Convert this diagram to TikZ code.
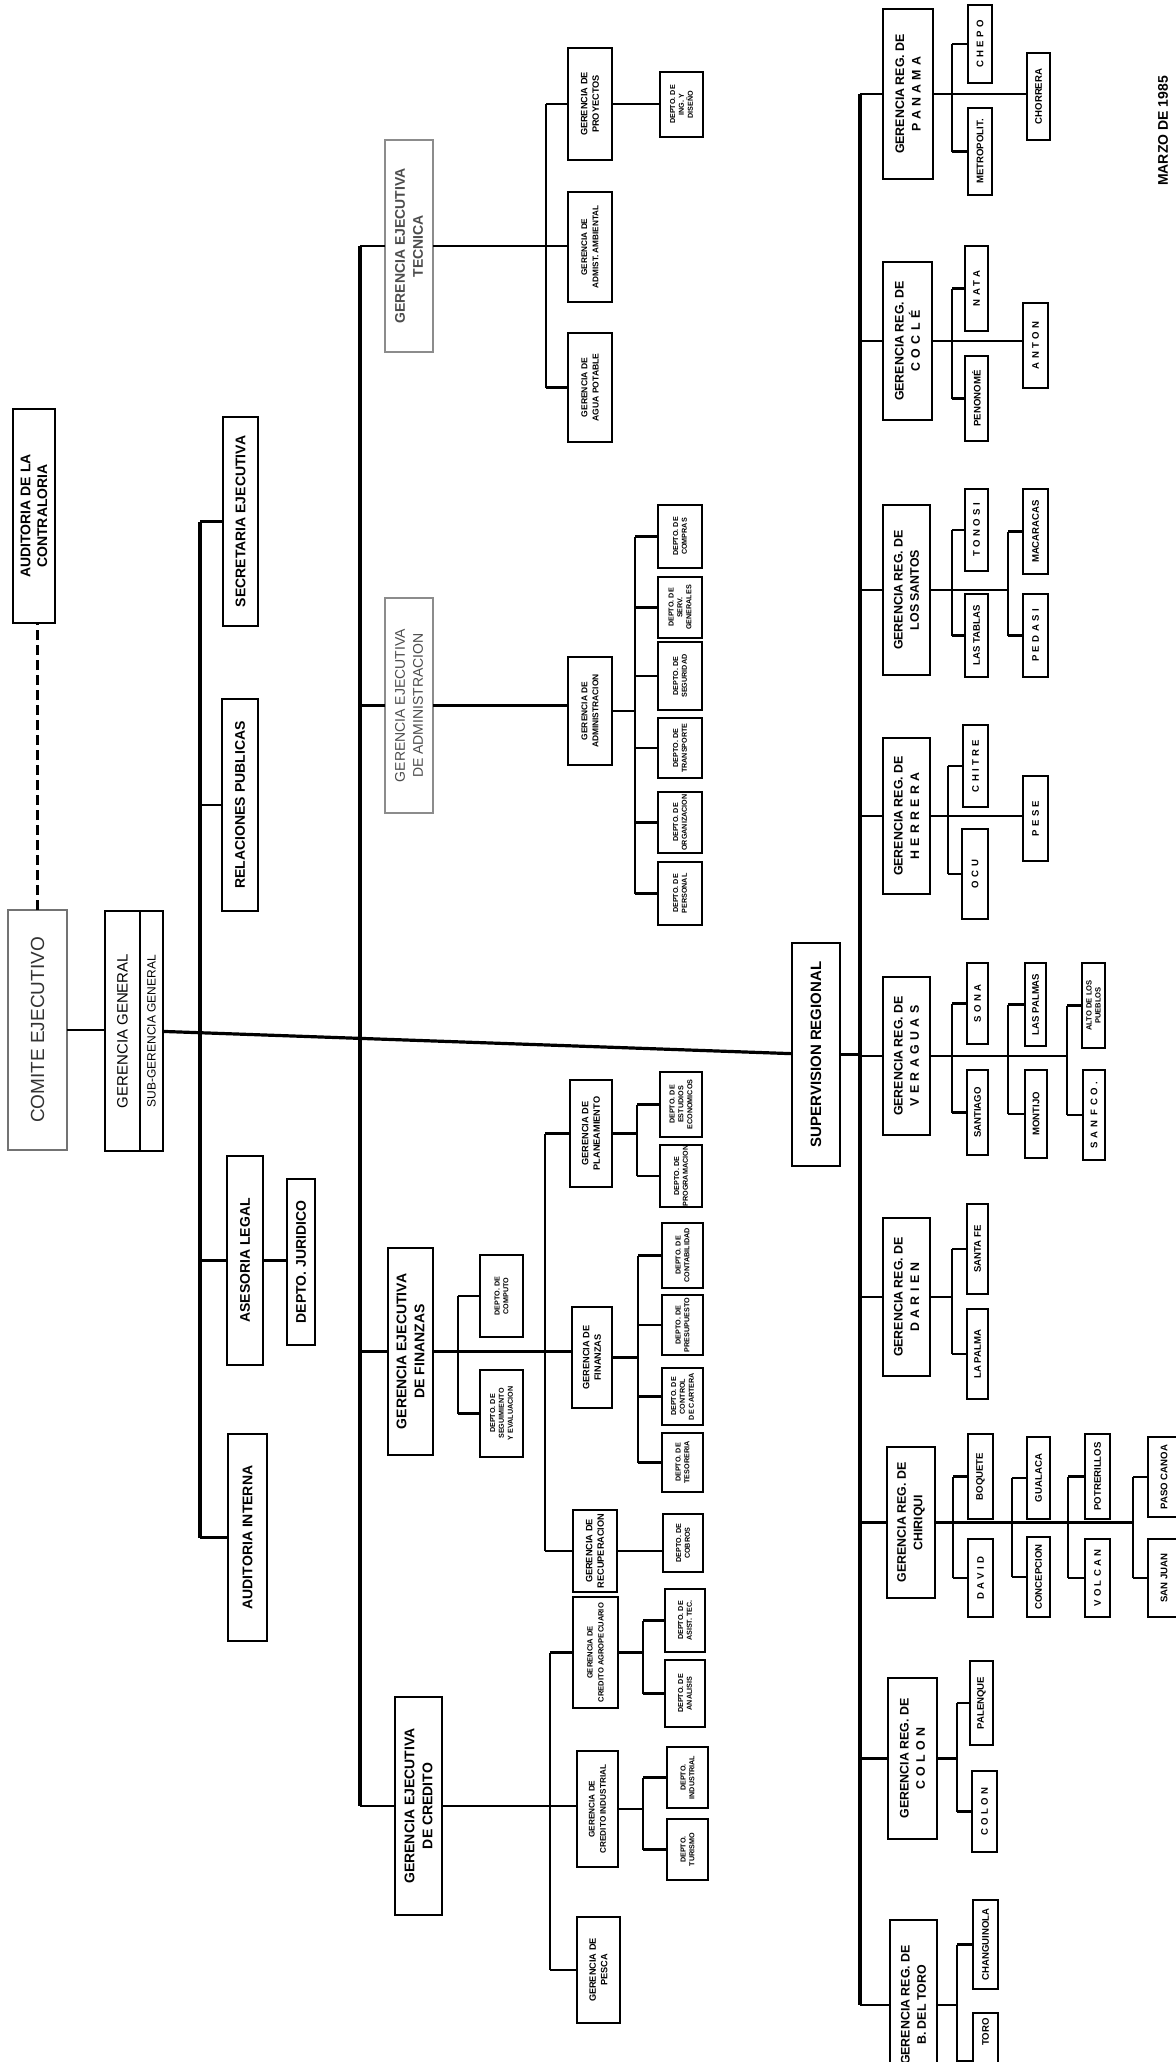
\documentclass[tikz,border=0pt]{standalone}
\usepackage{fontspec}
\setmainfont{Liberation Sans}
\newcommand\obox[7]{\node[#1,minimum width={(#6-#4)*0.5pt},minimum height={(#5-#3)*0.5pt}] (#2) at ({(#3+#5)/2},{(#4+#6)/2}) {#7};}
\newcommand\hconn[2]{\draw[conn] (#1.north) -- (#1.north -| #2);}
\newcommand\lsp[1]{{\addfontfeature{LetterSpace=35}#1}}
\tikzset{
  every node/.style={inner sep=0pt, outer sep=0pt},
  bxs/.style={draw, rotate=90, align=center, line width=1.4pt, font=\bfseries\fontsize{7}{8.4}\selectfont},
  geje/.style={bxs, font=\bfseries\fontsize{7}{9}\selectfont},
  greg/.style={bxs, font=\bfseries\fontsize{6.2}{8.2}\selectfont},
  gsub/.style={bxs, line width=1.3pt, font=\bfseries\fontsize{4.6}{5.8}\selectfont},
  dep/.style={bxs, line width=1.2pt, font=\bfseries\fontsize{3.6}{4.4}\selectfont},
  loc/.style={bxs, line width=1.3pt, font=\bfseries\fontsize{4.8}{5.6}\selectfont},
  faded/.style={draw=black!45, text=black!70, line width=1pt},
  comite/.style={draw=black!55, line width=0.9pt, rotate=90, text=black!80, font=\fontsize{9.5}{11}\selectfont},
  ggs/.style={draw, line width=1.2pt, rotate=90, font=\fontsize{7.5}{9}\selectfont},
  conn/.style={line width=1.1pt},
  bus/.style={line width=1.6pt},
}
\begin{document}
\begin{tikzpicture}[x=0.5pt,y=-0.5pt]
\useasboundingbox[fill=white] (0,0) rectangle (1175,2062);
% bus coordinates (only x used)
\coordinate (sbus) at (200,0);
\coordinate (gbus) at (360,0);
\coordinate (tbus) at (546,0);
\coordinate (abus) at (635,0);
\coordinate (fbusA) at (458,0);
\coordinate (fbusB) at (545,0);
\coordinate (pbus) at (637,0);
\coordinate (fbusC) at (638,0);
\coordinate (cbus) at (550,0);
\coordinate (crbus) at (643,0);
\coordinate (rbus) at (860,0);
\coordinate (vA) at (952,0);
\coordinate (vB) at (1008,0);
\coordinate (vC) at (1067,0);
\coordinate (hA) at (948,0);
\coordinate (cA) at (953,0);
\coordinate (cB) at (1012,0);
\coordinate (cC) at (1068,0);
\coordinate (cD) at (1133,0);
\coordinate (oA) at (957,0);

% ---------- top level ----------
\obox{bxs}{aud}{13}{409}{55}{623}{AUDITORIA DE LA\\CONTRALORIA}
\obox{comite}{com}{8}{910}{67}{1150}{COMITE EJECUTIVO}
\obox{ggs}{gg}{105}{911}{140}{1151}{GERENCIA GENERAL}
\obox{ggs,font=\fontsize{6}{7}\selectfont}{sgg}{140}{911}{163}{1151}{SUB-GERENCIA GENERAL}
\draw[line width=1.8pt, dash pattern=on 5pt off 2.5pt] (com.east) -- (com.east |- aud.west);
\draw[conn] (com.south) -- (com.south -| gg.north);

% staff
\obox{bxs}{sec}{223}{417}{258}{626}{SECRETARIA EJECUTIVA}
\obox{bxs}{rel}{222}{699}{258}{911}{RELACIONES PUBLICAS}
\obox{bxs}{ase}{227}{1156}{263}{1365}{ASESORIA LEGAL}
\obox{bxs}{jur}{287}{1179}{315}{1345}{DEPTO. JURIDICO}
\obox{bxs}{audi}{228}{1434}{267}{1641}{AUDITORIA INTERNA}
\draw[bus] (sec.north -| sbus) -- (audi.north -| sbus);
\hconn{sec}{sbus}
\hconn{rel}{sbus}
\hconn{ase}{sbus}
\hconn{audi}{sbus}
\draw[conn] (ase.south) -- (ase.south -| jur.north);

% ---------- gerencias ejecutivas ----------
\obox{geje,faded}{tec}{385}{140}{433}{352}{GERENCIA EJECUTIVA\\TECNICA}
\obox{geje,faded,font=\fontsize{7}{9}\selectfont}{adm}{385}{598}{433}{813}{GERENCIA EJECUTIVA\\DE ADMINISTRACION}
\obox{geje}{fin}{388}{1248}{433}{1455}{GERENCIA EJECUTIVA\\DE FINANZAS}
\obox{geje}{cred}{395}{1697}{442}{1915}{GERENCIA EJECUTIVA\\DE CREDITO}
\draw[bus] (tec.north -| gbus) -- (cred.north -| gbus);
\hconn{tec}{gbus}
\hconn{adm}{gbus}
\hconn{fin}{gbus}
\hconn{cred}{gbus}

% Tecnica
\obox{gsub}{proy}{568}{48}{612}{160}{GERENCIA DE\\PROYECTOS}
\obox{gsub,font=\bfseries\fontsize{4.1}{5.6}\selectfont}{gamb}{568}{192}{612}{302}{GERENCIA DE\\ADMIST. AMBIENTAL}
\obox{gsub,font=\bfseries\fontsize{4.3}{5.6}\selectfont}{gagua}{568}{333}{612}{442}{GERENCIA DE\\AGUA POTABLE}
\obox{dep}{dproy}{660}{72}{703}{137}{DEPTO. DE\\ING. Y\\DISEÑO}
\draw[conn] (tec.south) -- (tec.south -| gamb.north);
\draw[conn] (proy.north -| tbus) -- (gagua.north -| tbus);
\hconn{proy}{tbus}
\hconn{gagua}{tbus}
\draw[conn] (proy.south) -- (proy.south -| dproy.north);

% Administracion
\obox{gsub,font=\bfseries\fontsize{4.2}{5.6}\selectfont}{gadmn}{568}{657}{612}{765}{GERENCIA DE\\ADMINISTRACION}
\obox{dep}{ad1}{658}{505}{702}{568}{DEPTO. DE\\COMPRAS}
\obox{dep}{ad2}{658}{577}{702}{638}{DEPTO. DE\\SERV.\\GENERALES}
\obox{dep}{ad3}{658}{642}{702}{710}{DEPTO. DE\\SEGURIDAD}
\obox{dep}{ad4}{658}{718}{702}{778}{DEPTO. DE\\TRANSPORTE}
\obox{dep}{ad5}{658}{792}{702}{853}{DEPTO. DE\\ORGANIZACION}
\obox{dep}{ad6}{658}{862}{702}{925}{DEPTO. DE\\PERSONAL}
\draw[conn] (adm.south) -- (adm.south -| gadmn.north);
\draw[conn] (gadmn.south) -- (gadmn.south -| abus);
\draw[conn] (ad1.north -| abus) -- (ad6.north -| abus);
\foreach \n in {ad1,ad2,ad3,ad4,ad5,ad6}{\hconn{\n}{abus}}

% Finanzas
\obox{dep}{dcomp}{480}{1255}{523}{1337}{DEPTO. DE\\COMPUTO}
\obox{dep}{dseg}{480}{1370}{523}{1457}{DEPTO. DE\\SEGUIMIENTO\\Y EVALUACION}
\obox{gsub}{gplan}{570}{1080}{612}{1187}{GERENCIA DE\\PLANEAMIENTO}
\obox{gsub}{gfin}{572}{1307}{612}{1408}{GERENCIA DE\\FINANZAS}
\obox{gsub}{grec}{573}{1510}{617}{1592}{GERENCIA DE\\RECUPERACION}
\obox{dep}{pA}{660}{1072}{702}{1137}{DEPTO. DE\\ESTUDIOS\\ECONOMICOS}
\obox{dep}{pB}{660}{1145}{702}{1207}{DEPTO. DE\\PROGRAMACION}
\obox{dep}{f1}{662}{1223}{703}{1288}{DEPTO. DE\\CONTABILIDAD}
\obox{dep}{f2}{662}{1295}{703}{1355}{DEPTO. DE\\PRESUPUESTO}
\obox{dep}{f3}{662}{1368}{703}{1425}{DEPTO. DE\\CONTROL\\DE CARTERA}
\obox{dep}{f4}{662}{1433}{703}{1492}{DEPTO. DE\\TESORERIA}
\obox{dep}{dcob}{663}{1514}{703}{1572}{DEPTO. DE\\COBROS}
\draw[conn] (fin.south) -- (fin.south -| gfin.north);
\draw[conn] (dcomp.north -| fbusA) -- (dseg.north -| fbusA);
\hconn{dcomp}{fbusA}
\hconn{dseg}{fbusA}
\draw[conn] (gplan.north -| fbusB) -- (grec.north -| fbusB);
\hconn{gplan}{fbusB}
\hconn{grec}{fbusB}
\draw[conn] (gplan.south) -- (gplan.south -| pbus);
\draw[conn] (pA.north -| pbus) -- (pB.north -| pbus);
\hconn{pA}{pbus}
\hconn{pB}{pbus}
\draw[conn] (gfin.south) -- (gfin.south -| fbusC);
\draw[conn] (f1.north -| fbusC) -- (f4.north -| fbusC);
\foreach \n in {f1,f2,f3,f4}{\hconn{\n}{fbusC}}
\draw[conn] (grec.south) -- (grec.south -| dcob.north);

% Credito
\obox{gsub,font=\bfseries\fontsize{3.8}{5.6}\selectfont}{gagro}{573}{1597}{618}{1708}{GERENCIA DE\\CREDITO AGROPECUARIO}
\obox{gsub,font=\bfseries\fontsize{4.1}{5.6}\selectfont}{gind}{577}{1751}{618}{1867}{GERENCIA DE\\CREDITO INDUSTRIAL}
\obox{gsub}{gpes}{577}{1917}{620}{2023}{GERENCIA DE\\PESCA}
\obox{dep}{agA}{665}{1589}{705}{1652}{DEPTO. DE\\ASIST. TEC.}
\obox{dep}{agB}{665}{1660}{705}{1727}{DEPTO. DE\\ANALISIS}
\obox{dep}{inA}{667}{1747}{708}{1808}{DEPTO.\\INDUSTRIAL}
\obox{dep}{inB}{667}{1819}{708}{1880}{DEPTO.\\TURISMO}
\draw[conn] (cred.south) -- (cred.south -| gind.north);
\draw[conn] (gagro.north -| cbus) -- (gpes.north -| cbus);
\hconn{gagro}{cbus}
\hconn{gpes}{cbus}
\draw[conn] (gagro.south) -- (gagro.south -| crbus);
\draw[conn] (agA.north -| crbus) -- (agB.north -| crbus);
\hconn{agA}{crbus}
\hconn{agB}{crbus}
\draw[conn] (gind.south) -- (gind.south -| crbus);
\draw[conn] (inA.north -| crbus) -- (inB.north -| crbus);
\hconn{inA}{crbus}
\hconn{inB}{crbus}

% ---------- regional ----------
\obox{bxs,font=\bfseries\fontsize{7.5}{9}\selectfont}{sup}{792}{943}{840}{1166}{SUPERVISION REGIONAL}
\draw[bus] (sgg) -- (sup);
\draw[bus] (sup.south) -- (sup.south -| rbus);

\obox{greg}{pan}{883}{9}{933}{179}{GERENCIA REG. DE\\\lsp{PANAMA}}
\obox{greg}{coc}{883}{262}{932}{420}{GERENCIA REG. DE\\\lsp{COCLÉ}}
\obox{greg}{sant}{883}{505}{930}{675}{GERENCIA REG. DE\\LOS SANTOS}
\obox{greg}{her}{883}{738}{930}{894}{GERENCIA REG. DE\\\lsp{HERRERA}}
\obox{greg}{ver}{883}{977}{930}{1135}{GERENCIA REG. DE\\\lsp{VERAGUAS}}
\obox{greg}{dar}{883}{1218}{930}{1376}{GERENCIA REG. DE\\\lsp{DARIEN}}
\obox{greg}{chi}{887}{1447}{935}{1598}{GERENCIA REG. DE\\CHIRIQUI}
\obox{greg}{col}{888}{1678}{937}{1839}{GERENCIA REG. DE\\\lsp{COLON}}
\obox{greg}{boc}{890}{1920}{937}{2090}{GERENCIA REG. DE\\B. DEL TORO}
\draw[bus] (pan.north -| rbus) -- (boc.north -| rbus);
\foreach \n in {pan,coc,sant,her,ver,dar,chi,col,boc}{\hconn{\n}{rbus}}

% Panama
\obox{loc}{chep}{968}{5}{992}{83}{\lsp{CHEPO}}
\obox{loc}{metro}{968}{108}{992}{195}{METROPOLIT.}
\obox{loc}{chor}{1027}{53}{1050}{140}{CHORRERA}
\draw[conn] (pan.south) -- (pan.south -| chor.north);
\draw[conn] (chep.north -| vA) -- (metro.north -| vA);
\hconn{chep}{vA}
\hconn{metro}{vA}

% Cocle
\obox{loc}{nata}{965}{246}{988}{331}{\lsp{NATA}}
\obox{loc}{peno}{965}{356}{988}{441}{PENONOMÉ}
\obox{loc}{anton}{1023}{303}{1048}{388}{\lsp{ANTON}}
\draw[conn] (coc.south) -- (coc.south -| anton.north);
\draw[conn] (nata.north -| vA) -- (peno.north -| vA);
\hconn{nata}{vA}
\hconn{peno}{vA}

% Los Santos
\obox{loc}{ton}{965}{489}{988}{571}{\lsp{TONOSI}}
\obox{loc}{ltab}{965}{594}{988}{677}{LAS TABLAS}
\obox{loc}{mac}{1023}{489}{1048}{574}{MACARACAS}
\obox{loc}{ped}{1023}{594}{1048}{677}{\lsp{PEDASI}}
\draw[conn] (sant.south) -- (sant.south -| vB);
\draw[conn] (ton.north -| vA) -- (ltab.north -| vA);
\hconn{ton}{vA}
\hconn{ltab}{vA}
\draw[conn] (mac.north -| vB) -- (ped.north -| vB);
\hconn{mac}{vB}
\hconn{ped}{vB}

% Herrera
\obox{loc}{chit}{963}{725}{988}{807}{\lsp{CHITRE}}
\obox{loc}{ocu}{962}{829}{988}{919}{\lsp{OCU}}
\obox{loc}{pese}{1023}{776}{1048}{861}{\lsp{PESE}}
\draw[conn] (her.south) -- (her.south -| pese.north);
\draw[conn] (chit.north -| hA) -- (ocu.north -| hA);
\hconn{chit}{hA}
\hconn{ocu}{hA}

% Veraguas
\obox{loc}{sona}{967}{963}{988}{1044}{\lsp{SONA}}
\obox{loc}{stgo}{967}{1070}{988}{1155}{SANTIAGO}
\obox{loc}{lpl}{1025}{963}{1046}{1046}{LAS PALMAS}
\obox{loc}{mont}{1025}{1070}{1047}{1158}{MONTIJO}
\obox{loc,font=\bfseries\fontsize{3.8}{4.6}\selectfont}{alto}{1082}{963}{1105}{1048}{ALTO DE LOS\\PUEBLOS}
\obox{loc}{sfco}{1083}{1070}{1105}{1160}{\lsp{SAN FCO.}}
\draw[conn] (ver.south) -- (ver.south -| vC);
\draw[conn] (sona.north -| vA) -- (stgo.north -| vA);
\hconn{sona}{vA}
\hconn{stgo}{vA}
\draw[conn] (lpl.north -| vB) -- (mont.north -| vB);
\hconn{lpl}{vB}
\hconn{mont}{vB}
\draw[conn] (alto.north -| vC) -- (sfco.north -| vC);
\hconn{alto}{vC}
\hconn{sfco}{vC}

% Darien
\obox{loc}{sfe}{967}{1204}{988}{1294}{SANTA FE}
\obox{loc}{lpa}{967}{1309}{988}{1399}{LA PALMA}
\draw[conn] (dar.south) -- (dar.south -| vA);
\draw[conn] (sfe.north -| vA) -- (lpa.north -| vA);
\hconn{sfe}{vA}
\hconn{lpa}{vA}

% Chiriqui
\obox{loc}{boq}{968}{1434}{993}{1519}{BOQUETE}
\obox{loc}{dav}{968}{1539}{993}{1617}{\lsp{DAVID}}
\obox{loc}{gua}{1027}{1437}{1050}{1519}{GUALACA}
\obox{loc}{con}{1027}{1537}{1050}{1617}{CONCEPCION}
\obox{loc}{pot}{1085}{1434}{1110}{1519}{POTRERILLOS}
\obox{loc}{vol}{1085}{1539}{1110}{1617}{\lsp{VOLCAN}}
\obox{loc}{pas}{1148}{1437}{1180}{1517}{PASO CANOA}
\obox{loc}{sjn}{1148}{1539}{1180}{1617}{SAN JUAN}
\draw[conn] (chi.south) -- (chi.south -| cD);
\draw[conn] (boq.north -| cA) -- (dav.north -| cA);
\hconn{boq}{cA}
\hconn{dav}{cA}
\draw[conn] (gua.north -| cB) -- (con.north -| cB);
\hconn{gua}{cB}
\hconn{con}{cB}
\draw[conn] (pot.north -| cC) -- (vol.north -| cC);
\hconn{pot}{cC}
\hconn{vol}{cC}
\draw[conn] (pas.north -| cD) -- (sjn.north -| cD);
\hconn{pas}{cD}
\hconn{sjn}{cD}

% Colon
\obox{loc}{pal}{970}{1661}{993}{1745}{PALENQUE}
\obox{loc}{coln}{972}{1771}{997}{1852}{\lsp{COLON}}
\draw[conn] (col.south) -- (col.south -| oA);
\draw[conn] (pal.north -| oA) -- (coln.north -| oA);
\hconn{pal}{oA}
\hconn{coln}{oA}

% Bocas del Toro
\obox{loc}{chang}{973}{1900}{998}{1989}{CHANGUINOLA}
\obox{loc}{toro}{973}{2013}{998}{2110}{\phantom{BOCAS DEL }TORO}
\draw[conn] (boc.south) -- (boc.south -| oA);
\draw[conn] (chang.north -| oA) -- (toro.north -| oA);
\hconn{chang}{oA}
\hconn{toro}{oA}

% date
\node[rotate=90, font=\bfseries\fontsize{7}{8}\selectfont] (fecha) at (1163,131) {MARZO DE 1985};
\end{tikzpicture}
\end{document}
